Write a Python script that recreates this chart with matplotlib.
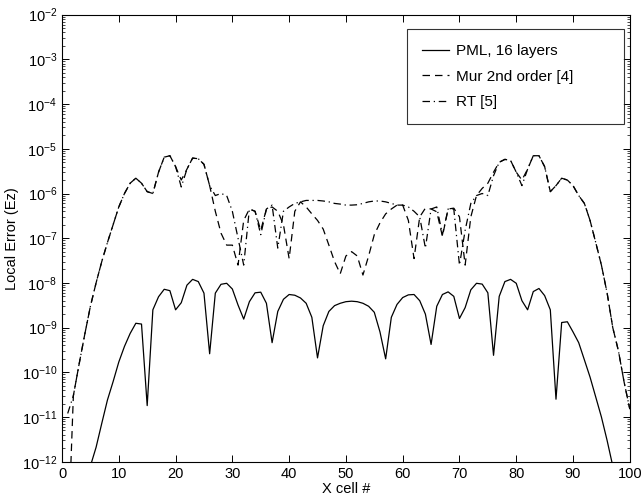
import numpy as np
import matplotlib
matplotlib.use('Agg')
from matplotlib import pyplot as plt
from matplotlib.ticker import LogLocator, NullFormatter

plt.rcParams['font.family'] = ['Liberation Sans', 'DejaVu Sans']
plt.rcParams['mathtext.fontset'] = 'custom'
plt.rcParams['mathtext.rm'] = 'Liberation Sans'

# cell index 1..100
cells = np.arange(1, 101)

pml = [1e-14, 4e-14, 1.5e-13, 4e-13, 8e-13, 2.1e-12, 7.2e-12, 2.4e-11, 6.2e-11, 1.7e-10,
       3.8e-10, 7.4e-10, 1.25e-9, 1.2e-9, 1.8e-11, 2.5e-9, 4.9e-9, 7.2e-9, 6.7e-9, 2.5e-9,
       3.6e-9, 8.9e-9, 1.2e-8, 1.07e-8, 5.9e-9, 2.6e-10, 5.9e-9, 9.3e-9, 9.8e-9, 7.3e-9,
       3.2e-9, 1.55e-9, 3.8e-9, 6e-9, 6.2e-9, 3.5e-9, 4.6e-10, 2.3e-9, 4.3e-9, 5.5e-9,
       5.3e-9, 4.6e-9, 3.5e-9, 1.7e-9, 2.1e-10, 1.1e-9, 2.3e-9, 3.1e-9, 3.5e-9, 3.8e-9,
       3.9e-9, 3.8e-9, 3.5e-9, 3e-9, 2.2e-9, 8e-10, 2e-10, 1.7e-9, 3.3e-9, 4.7e-9,
       5.4e-9, 5.5e-9, 4e-9, 2e-9, 4.2e-10, 3e-9, 5.5e-9, 6.3e-9, 5e-9, 1.6e-9,
       2.8e-9, 7e-9, 9.8e-9, 9.4e-9, 6e-9, 2.4e-10, 5e-9, 1.07e-8, 1.2e-8, 9.8e-9,
       4e-9, 2.5e-9, 6.4e-9, 7.5e-9, 5.2e-9, 2.5e-9, 2.5e-11, 1.3e-9, 1.35e-9, 8e-10,
       4.6e-10, 1.9e-10, 7.8e-11, 2.8e-11, 1e-11, 3e-12, 8e-13, 2e-13, 5e-14, 1e-14]

mur = [1e-14, 3e-11, 1.5e-10, 7e-10, 3e-9, 1e-8, 3e-8, 8e-8, 2e-7, 5e-7,
       1e-6, 1.7e-6, 2.2e-6, 1.7e-6, 1.1e-6, 1e-6, 3e-6, 6.5e-6, 7e-6, 4e-6,
       2e-6, 3.5e-6, 6.2e-6, 6e-6, 4.5e-6, 1.5e-6, 4e-7, 1.3e-7, 7e-8, 7e-8,
       2.5e-8, 2.5e-7, 4.5e-7, 4e-7, 1.5e-7, 4.5e-7, 5e-7, 4e-7, 2e-7, 3.5e-8,
       4e-7, 6.5e-7, 5e-7, 3.5e-7, 2.5e-7, 1.6e-7, 7e-8, 3e-8, 1.6e-8, 4e-8,
       5e-8, 4e-8, 1.5e-8, 4e-8, 1.2e-7, 2.2e-7, 3.5e-7, 4.5e-7, 5.5e-7, 5.5e-7,
       2.5e-7, 3.5e-8, 3e-7, 4.7e-7, 4.5e-7, 3.9e-7, 1.1e-7, 4.5e-7, 4.7e-7, 3e-7,
       2.5e-8, 3e-7, 9e-7, 1.3e-6, 1.7e-6, 3e-6, 5e-6, 5.8e-6, 5.5e-6, 3e-6,
       2e-6, 3.5e-6, 7e-6, 7e-6, 4e-6, 1.1e-6, 1.5e-6, 2.2e-6, 2e-6, 1.5e-6,
       9e-7, 6e-7, 2.5e-7, 8e-8, 2.5e-8, 6e-9, 1e-9, 3e-10, 6e-11, 1.5e-11]

rt = [1.2e-11, 3e-11, 1.5e-10, 7e-10, 3e-9, 1e-8, 3e-8, 8e-8, 2e-7, 5e-7,
      1e-6, 1.7e-6, 2.2e-6, 1.7e-6, 1.1e-6, 1e-6, 3e-6, 6.5e-6, 7e-6, 4e-6,
      1.4e-6, 3.5e-6, 6.2e-6, 6e-6, 4.5e-6, 1.5e-6, 9e-7, 1e-6, 9e-7, 4e-7,
      1e-7, 2.5e-8, 4.5e-7, 4e-7, 1.2e-7, 4.5e-7, 5.5e-7, 6e-8, 4e-7, 5e-7,
      6e-7, 6.5e-7, 7e-7, 7e-7, 7e-7, 6.8e-7, 6.5e-7, 6e-7, 5.8e-7, 5.5e-7,
      5.5e-7, 5.6e-7, 6e-7, 6.5e-7, 6.8e-7, 6.8e-7, 6.5e-7, 6e-7, 5.5e-7, 5.5e-7,
      5e-7, 4e-7, 3e-7, 6e-8, 4.5e-7, 5e-7, 1.2e-7, 4.5e-7, 4.5e-7, 2.5e-8,
      1.5e-7, 6e-7, 9e-7, 1e-6, 9e-7, 2.5e-6, 5e-6, 5.8e-6, 5.5e-6, 3e-6,
      1.5e-6, 3.5e-6, 7e-6, 7e-6, 4e-6, 1.1e-6, 1.5e-6, 2.2e-6, 2e-6, 1.5e-6,
      9e-7, 6e-7, 2.5e-7, 8e-8, 2.5e-8, 6e-9, 1e-9, 3e-10, 6e-11, 1.5e-11]

labels = ['PML, 16 layers', 'Mur 2nd order [4]', 'RT [5]']

fig = plt.figure(figsize=(6.42, 5.0), dpi=100)
ax = fig.add_axes([0.0966, 0.0766, 0.8844, 0.894])

ax.semilogy(cells, pml, color='black', lw=0.9, linestyle='-', label=labels[0])
ax.semilogy(cells, mur, color='black', lw=0.9, linestyle=(0, (6, 4)), label=labels[1])
ax.semilogy(cells, rt, color='black', lw=0.9, linestyle=(0, (6, 3, 1, 3)), label=labels[2])

ax.set_xlim(0, 100)
ax.set_ylim(1e-12, 1e-2)
ax.set_xticks(np.arange(0, 101, 10))
ax.yaxis.set_major_locator(LogLocator(base=10, numticks=20))
ax.yaxis.set_minor_locator(LogLocator(base=10, subs=np.arange(2, 10), numticks=20))
ax.yaxis.set_minor_formatter(NullFormatter())
ax.tick_params(which='both', direction='in', top=True, right=True, labelsize=10.5)
ax.tick_params(which='major', length=5, width=0.7)
ax.tick_params(which='minor', length=2.5, width=0.5)
for s in ax.spines.values():
    s.set_linewidth(0.8)

ax.set_xlabel('X cell #', fontsize=10.5, labelpad=1)
ax.set_ylabel('Local Error (Ez)', fontsize=10.5, labelpad=2)

# legend box stretched to the reference's width
leg = ax.legend(loc='upper left', fontsize=11, frameon=True, fancybox=False,
                edgecolor='black', handlelength=1.8, handletextpad=0.4,
                borderpad=1.0, labelspacing=0.75, borderaxespad=0.0,
                mode='expand', bbox_to_anchor=(0.607, 0.0, 0.382, 0.968))
leg.get_frame().set_linewidth(0.8)

fig.savefig('out.png', dpi=100)
